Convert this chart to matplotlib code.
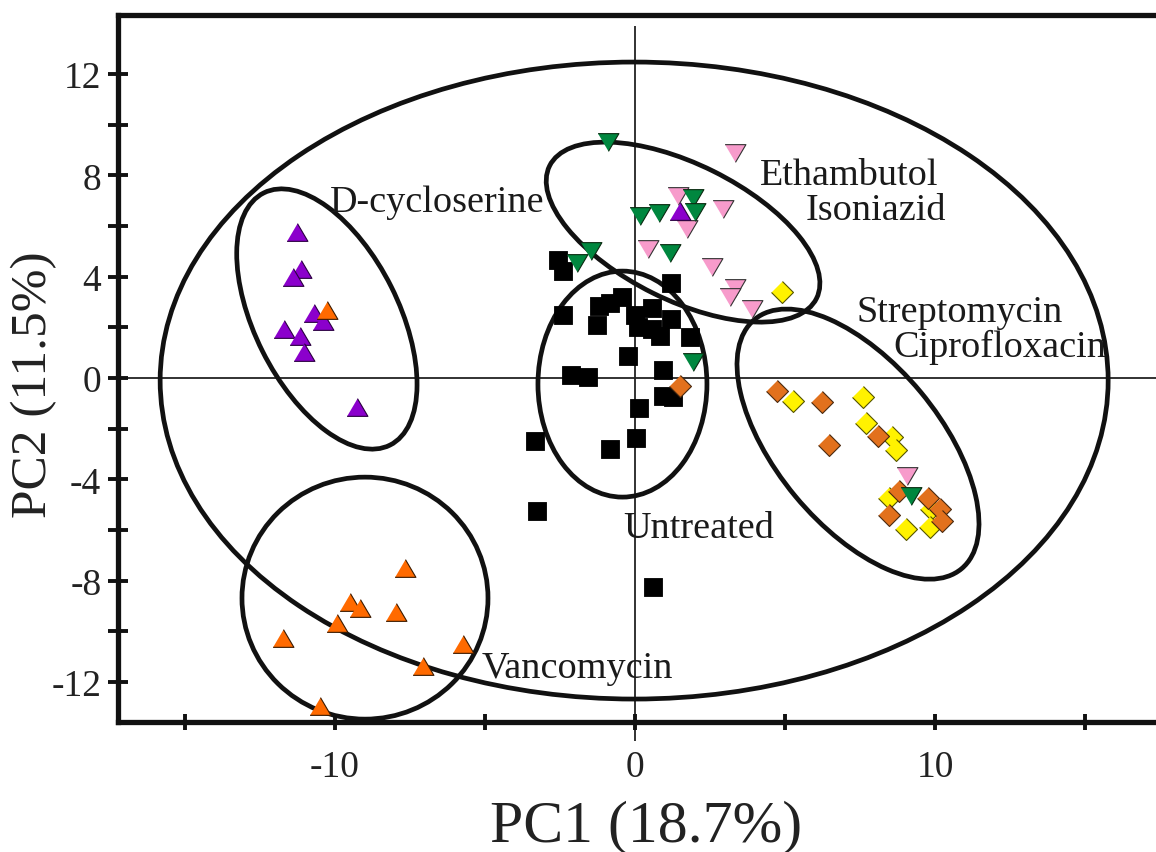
import matplotlib
matplotlib.use("Agg")
import matplotlib.pyplot as plt
from matplotlib.patches import Ellipse
from matplotlib.transforms import ScaledTranslation

plt.rcParams['font.family'] = ['Liberation Serif', 'DejaVu Serif']

# PCA scores
untr_x = [-2.56, -2.41, 1.19, -0.44, -0.83, -1.19, 0.56, -2.41, 0.00, 1.19, -1.26, 0.11, 0.56, 0.83,
          1.83, -0.22, -2.13, -1.58, 0.92, 0.92, 1.28, 0.14, 0.02, -0.83, -3.33, -3.28, 0.61]
untr_y = [4.67, 4.24, 3.75, 3.19, 2.96, 2.85, 2.75, 2.49, 2.49, 2.33, 2.09, 2.00, 1.93, 1.67,
          1.61, 0.88, 0.12, 0.05, 0.33, -0.70, -0.76, -1.20, -2.38, -2.80, -2.47, -5.24, -8.26]

strep_x = [4.89, 5.26, 7.59, 7.70, 8.56, 8.69, 8.47, 9.86, 9.02, 9.83]
strep_y = [3.38, -0.90, -0.76, -1.79, -2.34, -2.84, -4.75, -5.17, -5.96, -5.89]

cipro_x = [1.50, 4.74, 6.22, 8.09, 6.47, 8.78, 9.76, 10.17, 8.47, 10.22]
cipro_y = [-0.30, -0.50, -0.96, -2.30, -2.64, -4.45, -4.75, -5.17, -5.41, -5.63]

etham_x = [3.33, 1.44, 2.92, 1.72, 0.44, 2.58, 3.33, 3.17, 3.89, 9.06]
etham_y = [8.88, 7.20, 6.67, 5.90, 5.09, 4.37, 3.54, 3.19, 2.72, -3.88]

iso_x = [-0.89, 0.17, 0.80, 1.92, 2.00, 1.17, -1.48, -1.92, 1.94, 9.19]
iso_y = [9.30, 6.38, 6.51, 7.09, 6.54, 4.93, 5.03, 4.54, 0.64, -4.65]

dcyc_x = [-11.28, -11.14, -11.39, -10.70, -10.39, -11.69, -11.17, -11.02, -9.28, 1.50]
dcyc_y = [5.75, 4.30, 3.97, 2.57, 2.26, 1.93, 1.65, 1.04, -1.16, 6.61]

vanc_x = [-7.67, -9.50, -9.17, -7.97, -9.92, -11.74, -5.72, -7.08, -10.50, -10.28]
vanc_y = [-7.51, -8.86, -9.09, -9.22, -9.67, -10.28, -10.50, -11.36, -12.96, 2.70]

# group ellipses: centre (data), width/height on the page (inches), angle (deg)
ell_cx = [-0.03, -10.27, 1.60, -0.42, 7.43, -9.00]
ell_cy = [-0.10, 2.33, 5.76, -0.24, -2.61, -8.69]
ell_w = [9.48, 2.82, 2.98, 1.69, 3.24, 2.46]
ell_h = [6.37, 1.44, 1.36, 2.26, 1.63, 2.42]
ell_ang = [0, 116.6, -26.4, 0, -50.3, 0]

group_names = ['D-cycloserine', 'Ethambutol', 'Isoniazid', 'Streptomycin', 'Ciprofloxacin', 'Untreated', 'Vancomycin']
label_x = [-10.17, 4.17, 5.67, 7.37, 8.60, -0.40, -5.10]
label_y = [6.59, 7.66, 6.28, 2.25, 0.87, -6.28, -11.80]

fig = plt.figure(figsize=(11.56, 8.53), dpi=100)
ax = fig.add_axes([0.1021, 0.1524, 0.908, 0.8288])
ax.set_xlim(-17.23, 17.75)
ax.set_ylim(-13.58, 14.33)

up = [(-1, -0.85), (1, -0.85), (0, 0.85)]
down = [(-1, 0.85), (1, 0.85), (0, -0.85)]
diam = [(0, 1), (1, 0), (0, -1), (-1, 0)]

# cross hair through the origin
ax.axhline(0, color='#222222', lw=1.3, zorder=1)
ax.vlines(0, -14.33, 13.9, color='#222222', lw=1.3, zorder=1, clip_on=False)

for cx, cy, w, h, a in zip(ell_cx, ell_cy, ell_w, ell_h, ell_ang):
    tr = fig.dpi_scale_trans + ScaledTranslation(cx, cy, ax.transData)
    ax.add_patch(Ellipse((0, 0), w, h, angle=a, transform=tr, fill=False,
                         ec='#111111', lw=3.4, zorder=2))

ax.scatter(untr_x, untr_y, s=150, marker='s', c='black', edgecolors='black', linewidths=0.6, zorder=3)
ax.scatter(strep_x, strep_y, s=250, marker=diam, c='#FFF200', edgecolors='#555500', linewidths=0.8, zorder=4)
ax.scatter(cipro_x, cipro_y, s=250, marker=diam, c='#E2711D', edgecolors='#4a2a10', linewidths=0.8, zorder=4)
ax.scatter(etham_x, etham_y, s=225, marker=down, c='#F79BCB', edgecolors='#333333', linewidths=0.8, zorder=5)
ax.scatter(iso_x, iso_y, s=225, marker=down, c='#00873F', edgecolors='#0a2a10', linewidths=0.8, zorder=5)
ax.scatter(dcyc_x, dcyc_y, s=225, marker=up, c='#8B00CC', edgecolors='#2a0040', linewidths=0.8, zorder=6)
ax.scatter(vanc_x, vanc_y, s=225, marker=up, c='#FF6A00', edgecolors='#3a1a00', linewidths=0.8, zorder=6)

for name, tx, ty in zip(group_names, label_x, label_y):
    ax.text(tx, ty, name, fontsize=27.5, color='#1a1a1a', ha='left', va='baseline', zorder=7)

for side in ['left', 'bottom', 'top', 'right']:
    ax.spines[side].set_linewidth(3.8)
    ax.spines[side].set_color('#111111')

ax.set_xticks([-15, -10, -5, 0, 5, 10, 15])
ax.set_xticklabels(['', '-10', '', '0', '', '10', ''])
ax.set_yticks(range(-12, 13, 2))
ax.set_yticklabels([str(v) if v % 4 == 0 else '' for v in range(-12, 13, 2)])
ax.tick_params(axis='both', direction='inout', width=2.8, colors='#111111', labelsize=27, labelcolor='#222222')
ax.tick_params(axis='x', length=12, pad=14)
ax.tick_params(axis='y', length=14, pad=5)

fig.text(0.559, 0.014, 'PC1 (18.7%)', fontsize=43, ha='center', va='baseline', color='#222222')
fig.text(0.029, 0.549, 'PC2 (11.5%)', fontsize=37, rotation=90, ha='center', va='center', color='#222222')

fig.savefig('out.png', dpi=100)
